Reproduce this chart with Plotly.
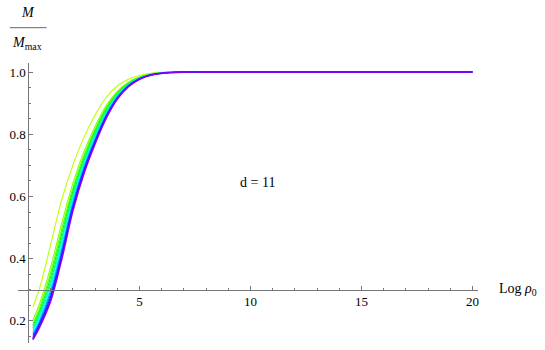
import colorsys
import plotly.graph_objects as go

# ---- data ----
log_rho0 = [0.2, 0.5, 1.0, 1.5, 2.0, 2.5, 3.0, 3.5, 4.0, 4.5, 5.0, 5.5, 6.0, 7.0, 8.0, 10.0, 20.0]

curve_01 = [0.245, 0.305, 0.445, 0.590, 0.700, 0.790, 0.862, 0.918, 0.955, 0.977, 0.989, 0.996, 0.999, 1.0, 1.0, 1.0, 1.0]
curve_02 = [0.203, 0.255, 0.373, 0.514, 0.642, 0.744, 0.825, 0.892, 0.938, 0.967, 0.984, 0.994, 0.998, 1.0, 1.0, 1.0, 1.0]
curve_03 = [0.192, 0.242, 0.355, 0.495, 0.627, 0.732, 0.816, 0.885, 0.934, 0.965, 0.983, 0.993, 0.997, 1.0, 1.0, 1.0, 1.0]
curve_04 = [0.184, 0.232, 0.341, 0.480, 0.616, 0.723, 0.809, 0.880, 0.931, 0.963, 0.982, 0.993, 0.997, 1.0, 1.0, 1.0, 1.0]
curve_05 = [0.177, 0.224, 0.328, 0.466, 0.606, 0.715, 0.802, 0.875, 0.928, 0.961, 0.981, 0.992, 0.997, 1.0, 1.0, 1.0, 1.0]
curve_06 = [0.170, 0.216, 0.317, 0.455, 0.597, 0.708, 0.797, 0.871, 0.925, 0.960, 0.980, 0.992, 0.997, 1.0, 1.0, 1.0, 1.0]
curve_07 = [0.164, 0.209, 0.306, 0.444, 0.588, 0.701, 0.791, 0.867, 0.923, 0.959, 0.980, 0.991, 0.997, 1.0, 1.0, 1.0, 1.0]
curve_08 = [0.158, 0.201, 0.296, 0.432, 0.580, 0.695, 0.786, 0.863, 0.920, 0.957, 0.979, 0.991, 0.997, 1.0, 1.0, 1.0, 1.0]
curve_09 = [0.153, 0.195, 0.287, 0.423, 0.572, 0.689, 0.781, 0.860, 0.918, 0.956, 0.978, 0.991, 0.996, 1.0, 1.0, 1.0, 1.0]
curve_10 = [0.147, 0.189, 0.278, 0.413, 0.565, 0.683, 0.776, 0.857, 0.916, 0.955, 0.978, 0.990, 0.996, 1.0, 1.0, 1.0, 1.0]
curve_11 = [0.143, 0.184, 0.270, 0.406, 0.559, 0.678, 0.773, 0.854, 0.914, 0.954, 0.977, 0.990, 0.996, 1.0, 1.0, 1.0, 1.0]
curve_12 = [0.140, 0.180, 0.265, 0.400, 0.555, 0.675, 0.770, 0.852, 0.913, 0.953, 0.977, 0.990, 0.996, 1.0, 1.0, 1.0, 1.0]

curves = [curve_01, curve_02, curve_03, curve_04, curve_05, curve_06,
          curve_07, curve_08, curve_09, curve_10, curve_11, curve_12]

y_tick_vals = [0.2, 0.4, 0.6, 0.8, 1.0]
y_tick_text = ["0.2", "0.4", "0.6", "0.8", "1.0"]
x_tick_vals = [5, 10, 15, 20]
x_tick_text = ["5", "10", "15", "20"]
annotation_text = "d = 11"
annotation_pos = (10.3, 0.645)

# ---- style ----
hues = [0.21, 0.245, 0.28, 0.33, 0.39, 0.45, 0.50, 0.55, 0.60, 0.65, 0.70, 0.75]
widths = [1.1] * 11 + [1.8]


def hue_color(h):
    r, g, b = colorsys.hsv_to_rgb(h, 1.0, 1.0)
    return "rgb(%d,%d,%d)" % (round(r * 255), round(g * 255), round(b * 255))


W, H = 545, 350
ML, MR, MT, MB = 18, 67, 63, 7
PW, PH = W - ML - MR, H - MT - MB
X_RANGE = [-0.47, 20.25]
Y_RANGE = [0.129, 1.029]
FONT = "Liberation Serif, Times New Roman, Times, serif"


def px_x(p):
    return (p - ML) / PW


def px_y(p):
    return (H - MB - p) / PH


fig = go.Figure()
for ys, h, w in zip(curves, hues, widths):
    fig.add_trace(go.Scatter(x=log_rho0, y=ys, mode="lines",
                             line=dict(color=hue_color(h), width=w, shape="spline", smoothing=1.0),
                             showlegend=False, hoverinfo="skip"))

x_axis_pos = (0.3 - Y_RANGE[0]) / (Y_RANGE[1] - Y_RANGE[0])
y_axis_pos = (0 - X_RANGE[0]) / (X_RANGE[1] - X_RANGE[0])

fig.update_layout(
    width=W, height=H,
    margin=dict(l=ML, r=MR, t=MT, b=MB, autoexpand=False),
    paper_bgcolor="white", plot_bgcolor="white",
    font=dict(family=FONT, size=13, color="black"),
    xaxis=dict(range=X_RANGE, anchor="free", position=x_axis_pos, automargin=False,
               showgrid=False, zeroline=False, showline=True, linecolor="#777", linewidth=1,
               ticks="inside", ticklen=4, tickcolor="#777", tickwidth=1,
               tickvals=x_tick_vals, ticktext=x_tick_text,
               minor=dict(dtick=1, tick0=0, ticks="inside", ticklen=2, tickcolor="#777"),
               tickfont=dict(family=FONT, size=13, color="black")),
    yaxis=dict(range=Y_RANGE, anchor="free", position=y_axis_pos, automargin=False,
               showgrid=False, zeroline=False, showline=True, linecolor="#777", linewidth=1,
               ticks="inside", ticklen=4, tickcolor="#777", tickwidth=1,
               tickvals=y_tick_vals, ticktext=y_tick_text,
               minor=dict(dtick=0.05, tick0=0, ticks="inside", ticklen=2, tickcolor="#777"),
               tickfont=dict(family=FONT, size=13, color="black")),
)

fig.add_annotation(x=annotation_pos[0], y=annotation_pos[1], xref="x", yref="y",
                   text=annotation_text, showarrow=False,
                   font=dict(family=FONT, size=14, color="black"))

# axis labels
fig.add_annotation(x=px_x(497), y=px_y(289), xref="paper", yref="paper",
                   text="Log <i>ρ</i><sub>0</sub>", showarrow=False, xanchor="left", yanchor="middle",
                   font=dict(family=FONT, size=14, color="black"))
fig.add_annotation(x=px_x(28), y=px_y(13), xref="paper", yref="paper",
                   text="<i>M</i>", showarrow=False, xanchor="center", yanchor="middle",
                   font=dict(family=FONT, size=14, color="black"))
fig.add_annotation(x=px_x(10), y=px_y(43), xref="paper", yref="paper",
                   text="<i>M</i><sub>max</sub>", showarrow=False, xanchor="left", yanchor="middle",
                   font=dict(family=FONT, size=14, color="black"))
fig.add_shape(type="line", xref="paper", yref="paper",
              x0=px_x(10), x1=px_x(46.5), y0=px_y(27.7), y1=px_y(27.7),
              line=dict(color="#666", width=1))

fig.write_html("out.html",
               config={"displayModeBar": False},
               post_script="document.body.style.margin='0px';document.body.style.padding='0px';")
